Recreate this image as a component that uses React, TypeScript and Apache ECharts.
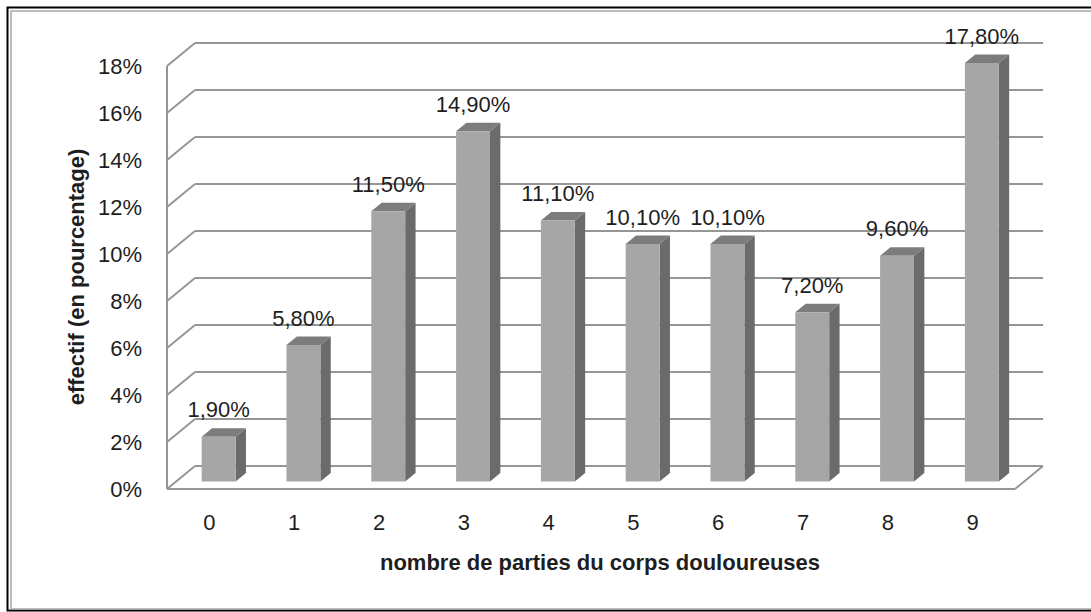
import React, { useEffect, useRef } from "react";
import * as echarts from "echarts";

const categories = ["0", "1", "2", "3", "4", "5", "6", "7", "8", "9"];
const values = [1.9, 5.8, 11.5, 14.9, 11.1, 10.1, 10.1, 7.2, 9.6, 17.8];
const yTicks = [0, 2, 4, 6, 8, 10, 12, 14, 16, 18];
const xTitle = "nombre de parties du corps douloureuses";
const yTitle = "effectif (en pourcentage)";

const DX = 28;
const DY = -23;
const FONT = "'Liberation Sans', Arial, sans-serif";
const TXT = "#1e1e1e";
const GRID = "#969696";

const fmt = (v: number) => v.toFixed(2).replace(".", ",") + "%";

export default function App() {
  const ref = useRef<HTMLDivElement>(null);
  useEffect(() => {
    if (!ref.current) return;
    const chart = echarts.init(ref.current, null, { renderer: "svg" });
    const lineStyle = { stroke: GRID, lineWidth: 2 };
    chart.setOption({
      animation: false,
      backgroundColor: "#ffffff",
      grid: { left: 167, right: 76, top: 66, bottom: 123 },
      xAxis: {
        type: "category",
        data: categories,
        axisLine: { show: false },
        axisTick: { show: false },
        axisLabel: { margin: 22, fontSize: 22, color: TXT, fontFamily: FONT },
      },
      yAxis: {
        type: "value",
        min: 0,
        max: 18,
        interval: 2,
        axisLine: { show: false },
        axisTick: { show: false },
        splitLine: { show: false },
        axisLabel: {
          margin: 25,
          fontSize: 22,
          color: TXT,
          fontFamily: FONT,
          formatter: "{value}%",
        },
      },
      graphic: [
        {
          type: "rect",
          shape: { x: 7.5, y: 7.5, width: 1100, height: 603 },
          style: { fill: "none", stroke: "#000", lineWidth: 2 },
          silent: true,
        },
        {
          type: "rect",
          shape: { x: 11, y: 11, width: 1100, height: 598 },
          style: { fill: "none", stroke: "#a8a8a8", lineWidth: 1.5 },
          silent: true,
        },
        {
          type: "text",
          x: 600,
          y: 562,
          style: {
            text: xTitle,
            fontSize: 22,
            fontWeight: "bold",
            fontFamily: FONT,
            fill: TXT,
            textAlign: "center",
            textVerticalAlign: "middle",
          },
        },
        {
          type: "text",
          x: 76,
          y: 277,
          rotation: Math.PI / 2,
          style: {
            text: yTitle,
            fontSize: 22,
            fontWeight: "bold",
            fontFamily: FONT,
            fill: TXT,
            textAlign: "center",
            textVerticalAlign: "middle",
          },
        },
      ],
      series: [
        {
          type: "custom",
          name: "walls",
          z: 1,
          silent: true,
          data: yTicks.map((v) => [0, v]),
          encode: { x: 0, y: 1 },
          renderItem: (params: any, api: any) => {
            const v = api.value(1);
            const y = api.coord([0, v])[1];
            const xL = params.coordSys.x;
            const xR = xL + params.coordSys.width;
            return {
              type: "group",
              children: [
                {
                  type: "line",
                  shape: { x1: xL + DX, y1: y + DY, x2: xR + DX, y2: y + DY },
                  style: lineStyle,
                },
                {
                  type: "line",
                  shape: { x1: xL, y1: y, x2: xL + DX, y2: y + DY },
                  style: lineStyle,
                },
              ],
            };
          },
        },
        {
          type: "custom",
          name: "frame",
          z: 1,
          silent: true,
          data: [[0, 0]],
          encode: { x: 0, y: 1 },
          renderItem: (params: any, api: any) => {
            const y0 = api.coord([0, yTicks[0]])[1];
            const yTop = api.coord([0, yTicks[yTicks.length - 1]])[1];
            const xL = params.coordSys.x;
            const xR = xL + params.coordSys.width;
            return {
              type: "group",
              children: [
                { type: "line", shape: { x1: xL, y1: y0, x2: xL, y2: yTop }, style: lineStyle },
                { type: "line", shape: { x1: xL, y1: y0, x2: xR, y2: y0 }, style: lineStyle },
                { type: "line", shape: { x1: xR, y1: y0, x2: xR + DX, y2: y0 + DY }, style: lineStyle },
              ],
            };
          },
        },
        {
          type: "custom",
          name: "effectif",
          z: 2,
          data: values.map((v, i) => [i, v]),
          encode: { x: 0, y: 1 },
          renderItem: (params: any, api: any) => {
            const i = api.value(0);
            const v = api.value(1);
            const base = api.coord([i, 0]);
            const top = api.coord([i, v]);
            const band = api.size([1, 0])[0];
            const w = band * 0.4;
            const ox = DX * 0.33;
            const oy = DY * 0.33;
            const dx = DX * 0.37;
            const dy = DY * 0.37;
            const xl = base[0] + ox - w / 2;
            const xr = xl + w;
            const yb = base[1] + oy;
            const yt = top[1] + oy;
            return {
              type: "group",
              children: [
                {
                  type: "polygon",
                  shape: { points: [[xr, yb], [xr + dx, yb + dy], [xr + dx, yt + dy], [xr, yt]] },
                  style: { fill: "#6b6b6b" },
                },
                {
                  type: "polygon",
                  shape: { points: [[xl, yt], [xl + dx, yt + dy], [xr + dx, yt + dy], [xr, yt]] },
                  style: { fill: "#7c7c7c" },
                },
                {
                  type: "rect",
                  shape: { x: xl, y: yt, width: w, height: yb - yt },
                  style: { fill: "#a6a6a6" },
                },
                {
                  type: "text",
                  x: (xl + xr) / 2,
                  y: yt - 27,
                  style: {
                    text: fmt(v),
                    fontSize: 22,
                    fontFamily: FONT,
                    fill: TXT,
                    textAlign: "center",
                    textVerticalAlign: "middle",
                  },
                },
              ],
            };
          },
        },
      ],
    });
    return () => chart.dispose();
  }, []);
  return (
    <div
      ref={ref}
      style={{ position: "fixed", left: 0, top: 0, width: 1091, height: 612 }}
    />
  );
}
